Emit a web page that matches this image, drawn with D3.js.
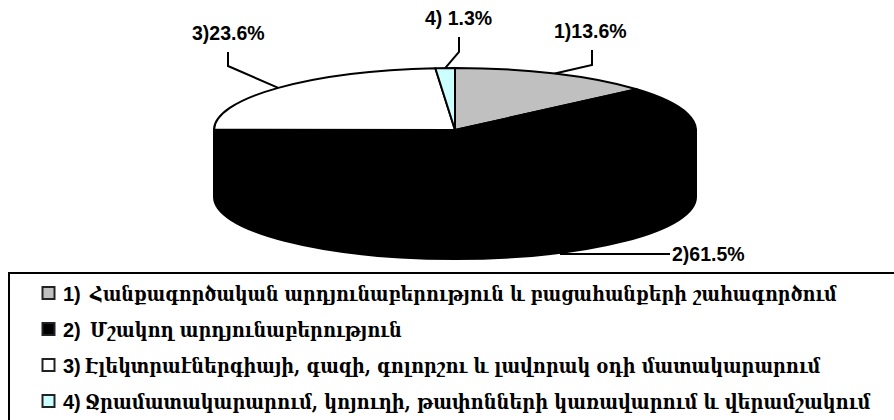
<!DOCTYPE html>
<html>
<head>
<meta charset="utf-8">
<script src="https://cdn.jsdelivr.net/npm/d3@7"></script>
<style>
  html, body { margin: 0; padding: 0; background: #fff; overflow: hidden; }
  text { font-family: "Liberation Sans", Arial, sans-serif; font-weight: bold; fill: #000; }
  .armenian { font-family: "DejaVu Serif", serif; }
</style>
</head>
<body>
<div id="chart"></div>
<script>
const shares = [13.6, 61.5, 23.6, 1.3]
const sliceColors = ["#c0c0c0", "#000000", "#ffffff", "#ccffff"]
const sliceLabels = ["1)13.6%", "2)61.5%", "3)23.6%", "4) 1.3%"]
const legendNumbers = ["1)", "2)", "3)", "4)"]
const legendLabels = [
    "Հանքագործական արդյունաբերություն և բացահանքերի շահագործում",
    "Մշակող արդյունաբերություն",
    "Էլեկտրաէներգիայի, գազի, գոլորշու և լավորակ օդի մատակարարում",
    "Ջրամատակարարում, կոյուղի, թափոնների կառավարում և վերամշակում"
]

const width = 894
const height = 420
const cx = 455
const cy = 130
const rx = 241
const ry = 62
const depth = 67
const lineWidth = 2

const svg = d3.select("#chart")
    .append("svg")
    .attr("width", width)
    .attr("height", height)

const pie = d3.pie().sort(null).value(d => d)
const slices = pie(shares)

const arc = d3.arc().innerRadius(0).outerRadius(rx)

// the wall under the disc, only its front half can be seen
svg.append("path")
    .attr("d", `M${cx + rx},${cy} V${cy + depth} A${rx},${ry} 0 0 1 ${cx - rx},${cy + depth} V${cy} Z`)
    .attr("fill", sliceColors[1])
    .attr("stroke", "#000")
    .attr("stroke-width", lineWidth)

svg.append("g")
    .attr("transform", `translate(${cx},${cy}) scale(1,${ry / rx})`)
    .selectAll("path")
    .data(slices)
    .join("path")
    .attr("d", arc)
    .attr("fill", (d, i) => sliceColors[i])
    .attr("stroke", "#000")
    .attr("stroke-width", lineWidth)
    .attr("vector-effect", "non-scaling-stroke")
    .attr("stroke-linejoin", "round")

// leader lines run from a point on the rim, then bend up to the label
const rim = d => {
    const a = (d.startAngle + d.endAngle) / 2
    return [cx + rx * Math.sin(a), cy - ry * Math.cos(a)]
}
const leaderBends = [[[592, 65], [592, 50]], [[670, 254]], [[228, 66], [228, 52]], [[459, 52], [459, 37]]]

svg.append("g")
    .selectAll("polyline")
    .data(slices)
    .join("polyline")
    .attr("points", (d, i) => [i === 1 ? [560, 254] : rim(d), ...leaderBends[i]].join(" "))
    .attr("fill", "none")
    .attr("stroke", "#000")
    .attr("stroke-width", lineWidth)

const labelX = [554, 672, 192, 425]
const labelY = [38, 261, 40, 25]
svg.append("g")
    .selectAll("text")
    .data(sliceLabels)
    .join("text")
    .attr("x", (d, i) => labelX[i])
    .attr("y", (d, i) => labelY[i])
    .attr("font-size", 19.5)
    .text(d => d)

svg.append("rect")
    .attr("x", 9)
    .attr("y", 273)
    .attr("width", 900)
    .attr("height", 160)
    .attr("fill", "none")
    .attr("stroke", "#000")
    .attr("stroke-width", lineWidth)

const legendY = d3.scalePoint().domain(d3.range(4)).range([293, 401])
const legendTextStart = [90, 90, 85, 85]
const legendTextEnd = [837, 402, 821, 871]

const legend = svg.append("g")
    .selectAll("g")
    .data(legendLabels)
    .join("g")
    .attr("transform", (d, i) => `translate(0,${legendY(i)})`)

legend.append("rect")
    .attr("x", 42.5)
    .attr("y", -6)
    .attr("width", 12)
    .attr("height", 12)
    .attr("fill", (d, i) => sliceColors[i])
    .attr("stroke", "#222")
    .attr("stroke-width", lineWidth)

legend.append("text")
    .attr("x", 63)
    .attr("y", 8)
    .attr("font-size", 20)
    .text((d, i) => legendNumbers[i])

// DejaVu Serif runs wider than the original face, squeeze each line to its width
legend.append("text")
    .attr("class", "armenian")
    .attr("font-size", 19.5)
    .text(d => d)
    .attr("transform", function (d, i) {
        const sx = (legendTextEnd[i] - legendTextStart[i]) / this.getComputedTextLength()
        return `translate(${legendTextStart[i]},8) scale(${sx},1)`
    })
</script>
</body>
</html>
